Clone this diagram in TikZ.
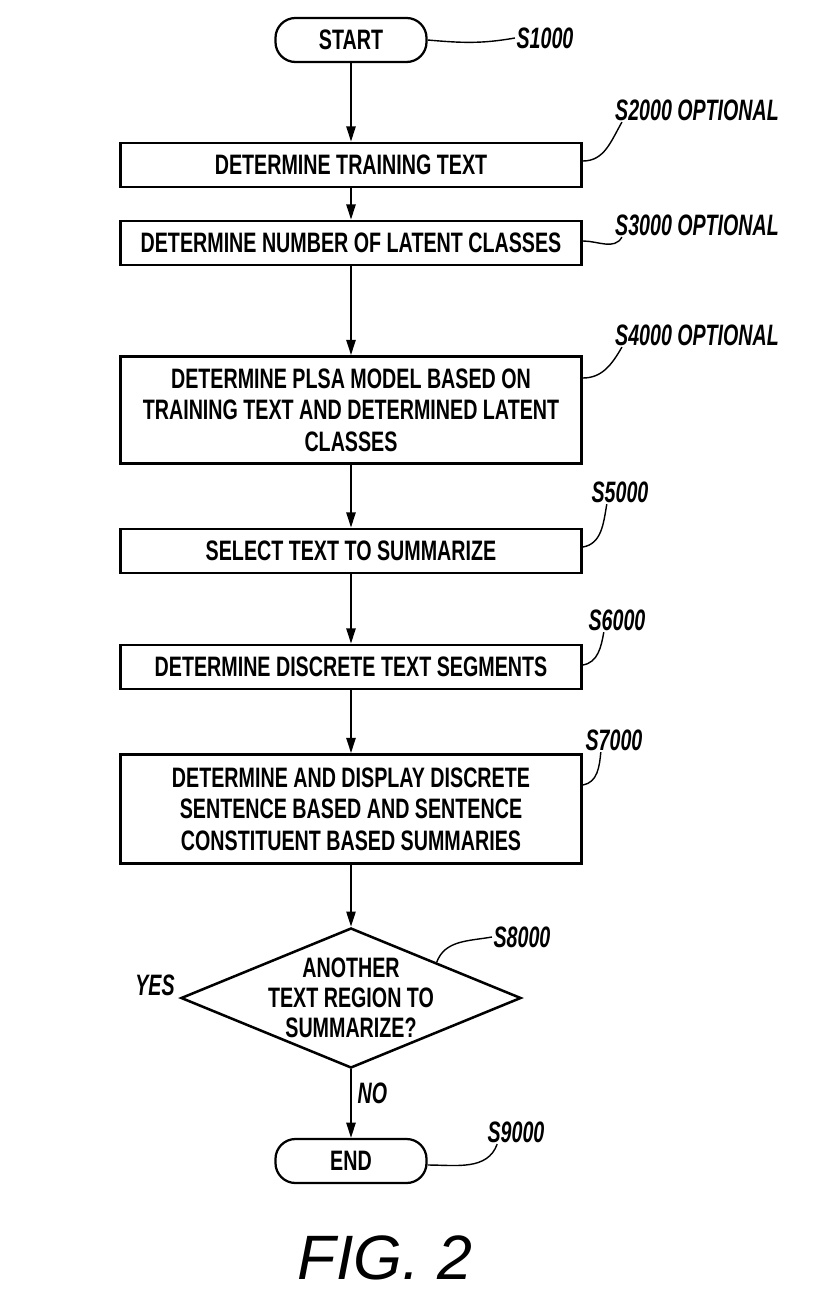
\documentclass[tikz,border=0pt]{standalone}
\usepackage{fontspec}
\setmainfont{Liberation Sans}
\newfontfamily\patfont[FakeStretch=0.70]{Liberation Sans}
\newfontfamily\tagfont[FakeStretch=0.665]{Liberation Sans}
\usetikzlibrary{shapes.geometric, arrows.meta}
\usetikzlibrary{positioning}
\tikzset{
  term/.style={rectangle, rounded corners=0.5cm, minimum width=3.775cm, minimum height=1.1cm, text centered, draw=black, line width=1.6pt, font=\patfont\bfseries\fontsize{20}{22}\selectfont},
  proc/.style={rectangle, minimum width=11.525cm, minimum height=1.1cm, align=center, draw=black, line width=2pt, font=\patfont\bfseries\fontsize{20}{22.3}\selectfont},
  dec/.style={diamond, minimum width=8.5cm, minimum height=3.5cm, inner sep=0pt, draw=black, line width=1.8pt},
  dectxt/.style={align=center, font=\patfont\bfseries\fontsize{20}{21.5}\selectfont},
  tag/.style={font=\tagfont\bfseries\itshape\fontsize{21}{22}\selectfont, inner sep=1pt},
  lead/.style={line width=1pt},
  >={Triangle[length=3.8mm,width=2.3mm]}
}
\begin{document}
\begin{tikzpicture}[x=0.025cm, y=-0.025cm]
	\useasboundingbox (0,0) rectangle (820,1294);
	\node[term] (start) at (351,40) {START};
	\node[proc] (train) at (351,165) {DETERMINE TRAINING TEXT};
	\node[proc] (classes) at (351,243) {DETERMINE NUMBER OF LATENT CLASSES};
	\node[proc, minimum height=2.675cm] (plsa) at (351,410) {DETERMINE PLSA MODEL BASED ON\\TRAINING TEXT AND DETERMINED LATENT\\CLASSES};
	\node[proc] (select) at (351,551) {SELECT TEXT TO SUMMARIZE};
	\node[proc] (segs) at (351,667) {DETERMINE DISCRETE TEXT SEGMENTS};
	\node[proc, minimum height=2.725cm] (summ) at (351,809) {DETERMINE AND DISPLAY DISCRETE\\SENTENCE BASED AND SENTENCE\\CONSTITUENT BASED SUMMARIES};
	\node[dec] (more) at (351,998) {};
	\node[dectxt] (moretxt) at (more.center) {ANOTHER\\TEXT REGION TO\\SUMMARIZE?};
	\node[term] (end) at (351,1161) {END};
	%
	\node[tag] (s1000) at (545,38) {S1000};
	\node[tag] (s2000) at (697,110) {S2000 OPTIONAL};
	\node[tag] (s3000) at (697,225) {S3000 OPTIONAL};
	\node[tag] (s4000) at (697,335) {S4000 OPTIONAL};
	\node[tag] (s5000) at (620,492) {S5000};
	\node[tag] (s6000) at (617,620) {S6000};
	\node[tag] (s7000) at (614,740) {S7000};
	\node[tag] (s8000) at (522,937) {S8000};
	\node[tag] (s9000) at (516,1132) {S9000};
	\node[tag] (yes) at (155,985) {YES};
	\node[font=\itshape\fontsize{44.6}{50}\selectfont] (fig) at (385,1258) {FIG. 2};
	%
	\draw[->, line width=1.4pt] (start) -- (train);
	\draw[->, line width=1.4pt] (train) -- (classes);
	\draw[->, line width=1.4pt] (classes) -- (plsa);
	\draw[->, line width=1.4pt] (plsa) -- (select);
	\draw[->, line width=1.4pt] (select) -- (segs);
	\draw[->, line width=1.4pt] (segs) -- (summ);
	\draw[->, line width=1.4pt] (summ) -- (more);
	\draw[->, line width=1.4pt] (more) -- node[tag, right=3pt, pos=0.35] (no) {NO} (end);
	%
	\draw[lead] (start.east) to[out=-5,in=190] (s1000.west);
	\draw[lead] ([yshift=0.1cm]train.east) to[out=0,in=240] ([xshift=6pt]s2000.south west);
	\draw[lead] ([yshift=0.05cm]classes.east) to[out=0,in=240] ([xshift=6pt]s3000.south west);
	\draw[lead] ([yshift=0.8cm]plsa.east) to[out=0,in=240] ([xshift=6pt]s4000.south west);
	\draw[lead] ([yshift=0.1cm]select.east) to[out=10,in=260] ([xshift=12pt]s5000.south west);
	\draw[lead] ([yshift=0.05cm]segs.east) to[out=10,in=260] ([xshift=12pt]s6000.south west);
	\draw[lead] ([yshift=0.6cm]summ.east) to[out=10,in=265] ([xshift=12pt]s7000.south west);
	\draw[lead] (more.north east) to[out=70,in=190] (s8000.west);
	\draw[lead] ([yshift=-0.1cm]end.east) to[out=0,in=250] ([xshift=8pt]s9000.south west);
\end{tikzpicture}
\end{document}
